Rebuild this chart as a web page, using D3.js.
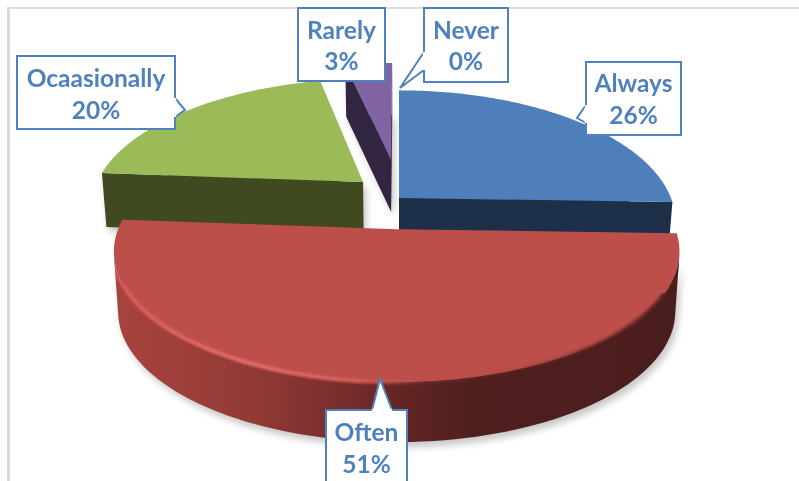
<!DOCTYPE html>
<html><head><meta charset="utf-8">
<script src="https://cdnjs.cloudflare.com/ajax/libs/d3/7.8.5/d3.min.js"></script>
<style>html,body{margin:0;padding:0;background:#fff;overflow:hidden}svg{display:block}</style>
</head><body><svg id="c" width="799" height="481"></svg>
<script>
const categories = ["Always","Often","Ocaasionally","Rarely","Never"];
const values = [25.5,50.7,20.4,3.4,0];
const topColors = ["#4e7fba","#bd4f4b","#9bbb59","#8064a2","#4bacc6"];
const wallColors = ["#1e3049","url(#redWall)","#3f4a21","#312542","#205867"];
// layout of the exploded, perspective pie
const sliceU = [0,-0.008,-0.135,-0.031,0];
const sliceV = [0,-0.235,0.128,0.316,0];
const sliceRadiusU = [1,0.981,1,1,1];
const sliceRadiusV = [1,0.915,1,1,1];
const sliceDepth = [50,60,54,52,0];
const drawOrder = [3,2,0,1];
const cx=399, cy=198, R=272, Ry=127, k=0.18, baseShrink=0.985;
const labelBoxes = [
 {x:586,y:62,w:95,h:73,lines:[83,115],ptr:[[586,105],[577,118],[586,123]]},
 {x:326,y:410,w:81,h:80,lines:[432,464],ptr:[[372,410],[380,379],[392,410]]},
 {x:17,y:56,w:158,h:73,lines:[78,110],ptr:[[175,98],[185,110],[175,117]]},
 {x:298,y:8,w:87,h:73,lines:[30,61],ptr:null},
 {x:424,y:8,w:84,h:74,lines:[30,61],ptr:[[424,52],[400,88],[424,70]]}
];
const svg=d3.select("#c");
const defs=svg.append("defs");
function grad(id,stops){
  const g=defs.append("linearGradient").attr("id",id).attr("gradientUnits","userSpaceOnUse")
    .attr("x1",113).attr("x2",682).attr("y1",0).attr("y2",0);
  stops.forEach(([o,c,a])=>g.append("stop").attr("offset",(o-113)/569).attr("stop-color",c).attr("stop-opacity",a==null?1:a));
}
grad("redWall",[[115,"#a8433f"],[250,"#923a36"],[340,"#7a2e2c"],[400,"#622523"],[470,"#4f1f1e"],[682,"#4a1d1d"]]);
grad("redRim",[[113,"#d85c5a"],[250,"#e46c6a"],[360,"#d75c5a"],[420,"#bd4f4b",0.2],[520,"#7a2e2c",0.2],[640,"#6a2a28",0.8],[682,"#4a1d1d"]]);
defs.append("filter").attr("id","soft").attr("x","-10%").attr("y","-10%").attr("width","120%").attr("height","120%")
  .append("feGaussianBlur").attr("stdDeviation",3.5);
defs.append("filter").attr("id","rimBlur").attr("x","-5%").attr("y","-5%").attr("width","110%").attr("height","110%")
  .append("feGaussianBlur").attr("stdDeviation",1);
defs.append("filter").attr("id","txtBlur").append("feGaussianBlur").attr("stdDeviation",0.3);

// frame
svg.append("rect").attr("x",7).attr("y",7).attr("width",3).attr("height",474).attr("fill","#d9d9d9");
svg.append("rect").attr("x",7).attr("y",7).attr("width",792).attr("height",2).attr("fill","#dedede");

const arcs=d3.pie().sort(null).value(d=>d)(values);
function project(u,v){const s=1+k*v;return [cx+R*u/s,cy-Ry*v/s];}
const line=d3.line();
const wallPaths=[],outlines=[];
arcs.forEach((a,i)=>{
  if(a.endAngle-a.startAngle<=0){outlines[i]=null;return;}
  const t=d3.range(0,97).map(n=>a.startAngle+(a.endAngle-a.startAngle)*n/96);
  const arc=t.map(th=>project(sliceU[i]+sliceRadiusU[i]*Math.sin(th),sliceV[i]+sliceRadiusV[i]*Math.cos(th)));
  const apex=project(sliceU[i],sliceV[i]);
  const out=[apex,...arc];
  outlines[i]={arc,out};
  const lower=p=>[cx+(p[0]-cx)*baseShrink,p[1]+sliceDepth[i]];
  let quads="";
  out.forEach((p,j)=>{
    const q=out[(j+1)%out.length];
    let poly=[p,q,lower(q),lower(p)];
    if(d3.polygonArea(poly)<0)poly=poly.reverse();
    quads+=line(poly)+"Z";
  });
  quads+=line(out)+"Z";
  wallPaths[i]=quads;
});
// shadow
const shadow=svg.append("g").attr("filter","url(#soft)").attr("opacity",0.33).attr("transform","translate(3,5)");
[1,2,3].forEach(i=>shadow.append("path").attr("d",wallPaths[i]).attr("fill","#555").attr("fill-rule","nonzero"));
drawOrder.forEach(i=>{
  const d=d3.polygonArea(outlines[i].out)<0?line(outlines[i].out.slice().reverse())+"Z":line(outlines[i].out)+"Z";
  const g=svg.append("g");
  g.append("path").attr("d",wallPaths[i]).attr("fill",wallColors[i]);
  g.append("path").attr("d",d).attr("fill",topColors[i]);
  const clipId="clip"+i;
  defs.append("clipPath").attr("id",clipId).append("path").attr("d",wallPaths[i]);
  if(categories[i]==="Often"){
    g.append("path").attr("d",line(outlines[i].arc)).attr("fill","none")
     .attr("stroke","url(#redRim)").attr("stroke-width",4.2).attr("filter","url(#rimBlur)")
     .attr("clip-path","url(#"+clipId+")");
  }
  if(categories[i]==="Always"){
    // dark fringe where the rim turns down at the right-hand end
    g.append("path").attr("d",line(outlines[i].arc.slice(72))).attr("fill","none")
     .attr("stroke","#1e3049").attr("stroke-width",2).attr("filter","url(#rimBlur)")
     .attr("clip-path","url(#"+clipId+")");
  }
});
// labels
const blue="#4f81bd";
labelBoxes.forEach((b,i)=>{
  const g=svg.append("g");
  const pts=[[b.x,b.y],[b.x+b.w,b.y],[b.x+b.w,b.y+b.h],[b.x,b.y+b.h]];
  g.append("path").attr("d",line(pts)+"Z").attr("fill","#fff").attr("stroke",blue).attr("stroke-width",2);
  if(b.ptr){
    g.append("path").attr("d",line(b.ptr)+"Z").attr("fill","#fff").attr("stroke","none");
    g.append("path").attr("d",line(b.ptr)).attr("fill","none").attr("stroke",blue).attr("stroke-width",2).attr("stroke-linejoin","miter");
    const [a,,c]=b.ptr;
    g.append("path").attr("d",line([a,c])).attr("stroke","#fff").attr("stroke-width",2.4);
  }
  const tx=g.append("g").attr("font-family","Lato, Carlito, sans-serif").attr("font-weight",700)
    .attr("font-size",24.5).attr("fill",blue).attr("text-anchor","middle").attr("filter","url(#txtBlur)");
  const midx=b.x+b.w/2;
  tx.append("text").attr("x",midx).attr("y",b.lines[0]).attr("dy","0.35em").text(categories[i]);
  tx.append("text").attr("x",midx).attr("y",b.lines[1]).attr("dy","0.35em").text(Math.round(values[i])+"%");
});
</script></body></html>
